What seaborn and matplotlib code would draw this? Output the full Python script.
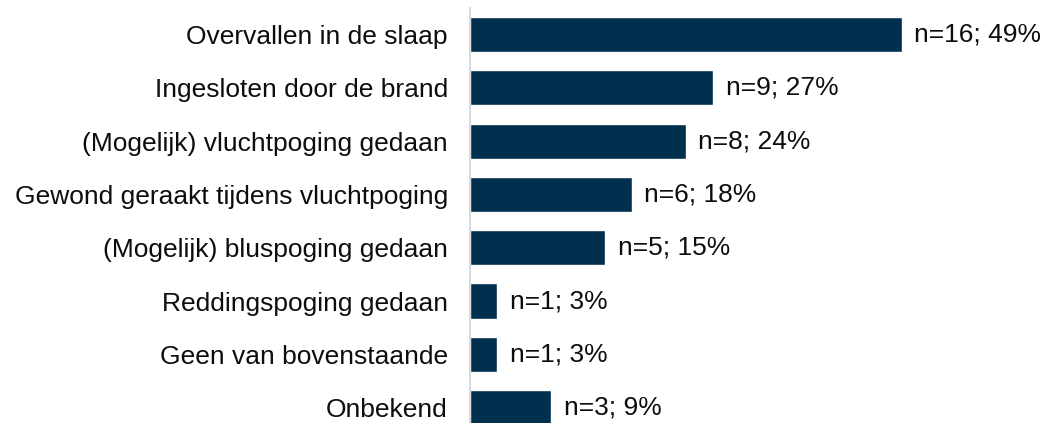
import matplotlib
matplotlib.use('Agg')
import matplotlib.pyplot as plt
import seaborn as sns
import pandas as pd

categories = [
    'Overvallen in de slaap',
    'Ingesloten door de brand',
    '(Mogelijk) vluchtpoging gedaan',
    'Gewond geraakt tijdens vluchtpoging',
    '(Mogelijk) bluspoging gedaan',
    'Reddingspoging gedaan',
    'Geen van bovenstaande',
    'Onbekend',
]
counts = [16, 9, 8, 6, 5, 1, 1, 3]
percentages = [49, 27, 24, 18, 15, 3, 3, 9]

df = pd.DataFrame({'categorie': categories, 'n': counts, 'pct': percentages})

sns.set_style('white')
plt.rcParams['font.family'] = ['Liberation Sans', 'DejaVu Sans']

fig = plt.figure(figsize=(10.45, 4.23), dpi=100)
ax = fig.add_axes([470 / 1045, 0, 575 / 1045, 415 / 423])

sns.barplot(data=df, x='n', y='categorie', orient='h', color='#00304E',
            width=0.66, saturation=1, ax=ax)

for i, (n, p) in enumerate(zip(counts, percentages)):
    ax.annotate(f'n={n}; {p}%', xy=(n, i), xytext=(9, 0),
                textcoords='offset points', va='center', ha='left',
                fontsize=19, color='#0d0d0d')

ax.set_xlim(0, 575 / 27)
ax.set_ylim(7.29, -0.5)
ax.set_xlabel('')
ax.set_ylabel('')
ax.set_xticks([])
ax.tick_params(axis='y', length=0, pad=16, labelsize=19, labelcolor='#0d0d0d')
for side in ['top', 'right', 'bottom']:
    ax.spines[side].set_visible(False)
ax.spines['left'].set_color('#d9d9d9')
ax.spines['left'].set_linewidth(1.5)

fig.savefig('out.png', dpi=100)
